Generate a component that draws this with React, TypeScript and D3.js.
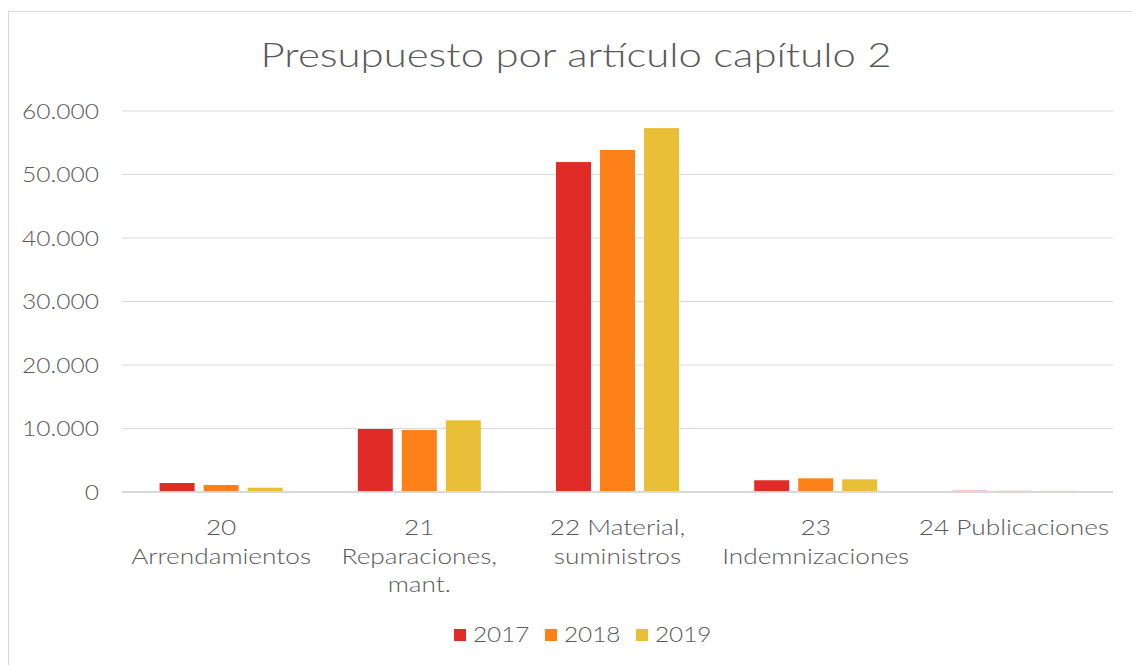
import React from 'react'
import * as d3 from 'd3'

const categories = [
  ['20', 'Arrendamientos'],
  ['21', 'Reparaciones,', 'mant.'],
  ['22 Material,', 'suministros'],
  ['23', 'Indemnizaciones'],
  ['24 Publicaciones']
]
const years = ['2017', '2018', '2019']
const colors = ['#E02B27', '#FD8019', '#E9BF37']
const values2017 = [1260, 9760, 51800, 1690, 150]
const values2018 = [950, 9600, 53700, 2000, 110]
const values2019 = [520, 11130, 57150, 1840, 90]
const yTicks = [0, 10000, 20000, 30000, 40000, 50000, 60000]

const W = 1132
const H = 665
const font = '"Lato", "Open Sans", sans-serif'
const textColor = '#595959'

// Century Gothic is not installed: a horizontally stretched Lato stands in for it
const Label = ({ x, y, size, anchor = 'middle', stretch = 1.22, children }) => (
  <text
    transform={`translate(${x},${y}) scale(${stretch},1)`}
    textAnchor={anchor}
    fontFamily={font}
    fontWeight={300}
    fontSize={size}
    fill={textColor}
  >
    {children}
  </text>
)

const App = () => {
  const series = [values2017, values2018, values2019]
  const left = 122
  const right = 1113
  const x = d3.scaleBand().domain(categories.map((_, i) => String(i))).range([left, right])
  const y = d3.scaleLinear().domain([0, 60000]).range([492, 111])
  const barW = 35
  const gap = 9
  const groupW = barW * 3 + gap * 2
  const fmt = (v) => d3.format(',')(v).replace(/,/g, '.')

  return (
    <svg width={W} height={H} style={{ position: 'absolute', left: 0, top: 0 }}>
      <rect x={0} y={0} width={W} height={H} fill="#fff" />
      <rect x={8.5} y={11.5} width={W} height={H} fill="none" stroke="#d9d9d9" />
      <Label x={576} y={67} size={33} stretch={1.27}>
        Presupuesto por artículo capítulo 2
      </Label>
      {yTicks.map((t) => (
        <g key={t}>
          <line x1={left} x2={right} y1={y(t)} y2={y(t)} stroke="#d9d9d9" strokeWidth={t === 0 ? 2 : 1} />
          <Label x={99} y={y(t) + 7.5} size={21} anchor="end" stretch={1.17}>
            {fmt(t)}
          </Label>
        </g>
      ))}
      {categories.map((c, i) => {
        const cx = x(String(i)) + x.bandwidth() / 2
        return (
          <g key={i}>
            {series.map((s, j) => (
              <rect
                key={j}
                x={cx - groupW / 2 + j * (barW + gap)}
                y={y(s[i]) - 1}
                width={barW}
                height={y(0) - y(s[i])}
                fill={colors[j]}
                fillOpacity={s[i] < 500 ? 0.25 : 1}
              />
            ))}
            {c.map((line, k) => (
              <Label key={k} x={cx} y={535 + k * 28.5} size={21} stretch={1.25}>
                {line}
              </Label>
            ))}
          </g>
        )
      })}
      {years.map((yr, j) => (
        <g key={yr}>
          <rect x={454 + j * 91} y={629} width={12} height={12} fill={colors[j]} />
          <Label x={473 + j * 91} y={642} size={21} anchor="start" stretch={1.16}>
            {yr}
          </Label>
        </g>
      ))}
    </svg>
  )
}

export default App
